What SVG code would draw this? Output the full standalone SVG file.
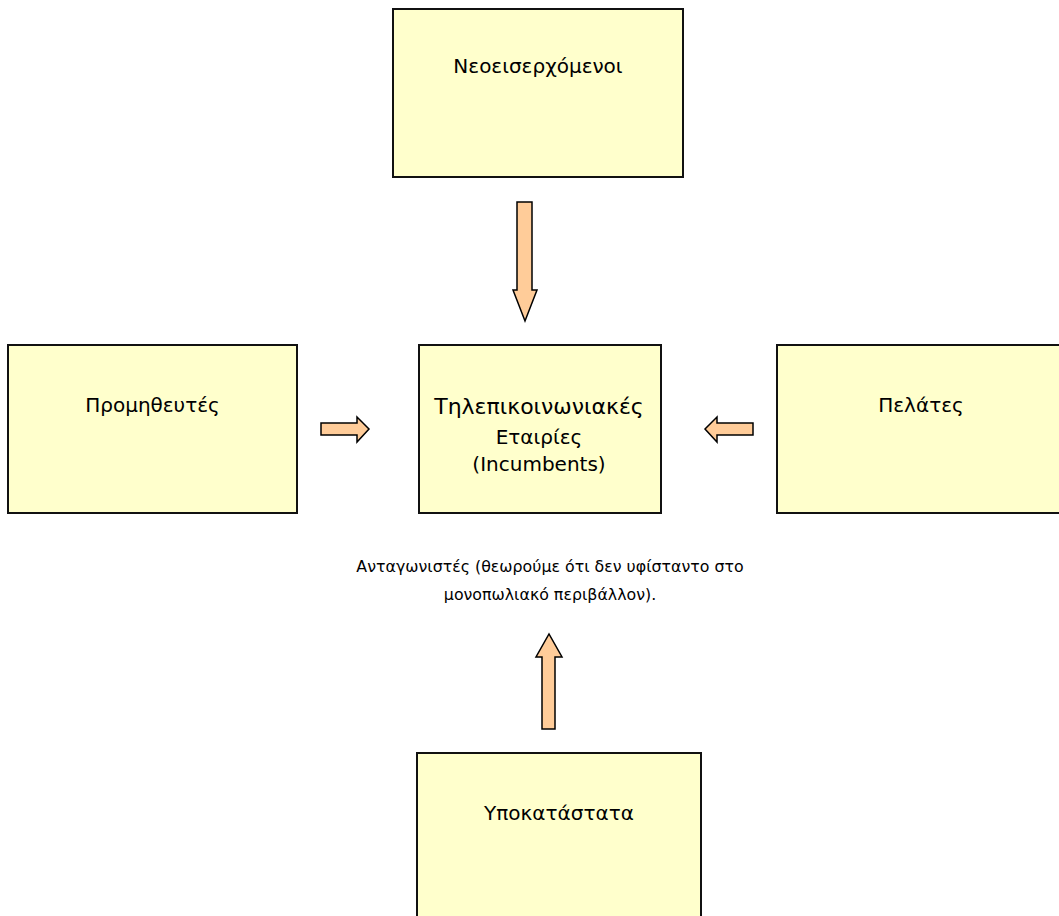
<svg xmlns="http://www.w3.org/2000/svg" width="1059" height="916" viewBox="0 0 1059 916">
  <style>
    .box { fill: #FFFFCC; stroke: #111; stroke-width: 2; }
    .arrow { fill: #FFCC99; stroke: #000; stroke-width: 1.5; stroke-linejoin: miter; }
    .label { font-family: "DejaVu Sans", "Liberation Sans", sans-serif; font-size: 20px; fill: #000; text-anchor: middle; }
    .big { font-size: 22px; }
    .note { font-size: 15.8px; }
  </style>
  <rect width="1059" height="916" fill="#FFFFFF"/>

  <g id="node-newcomers">
    <rect class="box" x="393" y="9" width="290" height="168"/>
    <text class="label" x="538" y="73">Νεοεισερχόμενοι</text>
  </g>

  <g id="node-suppliers">
    <rect class="box" x="8" y="345" width="289" height="168"/>
    <text class="label" x="152.5" y="412">Προμηθευτές</text>
  </g>

  <g id="node-incumbents">
    <rect class="box" x="419" y="345" width="242" height="168"/>
    <text class="label big" x="539" y="414">Τηλεπικοινωνιακές</text>
    <text class="label" x="539" y="444">Εταιρίες</text>
    <text class="label" x="539" y="471">(Incumbents)</text>
  </g>

  <g id="node-customers">
    <rect class="box" x="777" y="345" width="290" height="168"/>
    <text class="label" x="921" y="412">Πελάτες</text>
  </g>

  <g id="node-substitutes">
    <rect class="box" x="417" y="753" width="284" height="180"/>
    <text class="label" x="559" y="820">Υποκατάστατα</text>
  </g>

  <g id="node-competitors">
    <text class="label note" x="550" y="572">Ανταγωνιστές (θεωρούμε ότι δεν υφίσταντο στο</text>
    <text class="label note" x="550" y="600">μονοπωλιακό περιβάλλον).</text>
  </g>

  <g id="connectors">
    <polygon class="arrow" points="517,202 532,202 532,290 537,290 525,321 513,290 517,290"/>
    <polygon class="arrow" points="321,423 357,423 357,417 369,429 357,442 357,435 321,435"/>
    <polygon class="arrow" points="753,423 717,423 717,417 705,429 717,442 717,435 753,435"/>
    <polygon class="arrow" points="542,729 542,657 536,657 549,634 562,657 555,657 555,729"/>
  </g>
</svg>
